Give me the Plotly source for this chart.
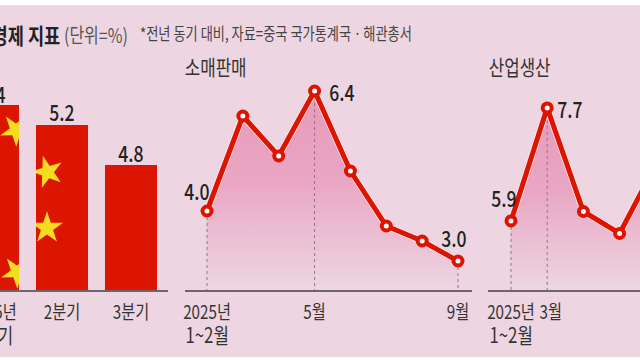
import plotly.graph_objects as go

# ---- data ----
quarter_labels = ["2025년", "2분기", "3분기"]
quarter_sublabel = "1분기"
gdp_values = [5.4, 5.2, 4.8]

retail_values = [4.0, 5.9, 5.1, 6.4, 4.8, 3.7, 3.4, 3.0]
retail_ticks = [0, 3, 7]
retail_ticklabels = ["2025년", "5월", "9월"]

industry_values = [5.9, 7.7, 6.05, 5.7, 6.8]
industry_ticks = [0, 1]
industry_ticklabels = ["2025년", "3월"]

first_period_sublabel = "1~2월"

# ---- style ----
W, H = 640, 360
BG = "#EDD6E2"
RED = "#DC1400"
BAR = "#DB1500"
YEL = "#F5DC1E"
INK = "#222222"
KR = "Noto Sans CJK KR, sans-serif"
TICK = dict(family=KR, size=19, color="#333333")

fig = go.Figure()

# bars
fig.add_trace(go.Bar(x=[0, 1, 2], y=gdp_values, width=0.754, marker=dict(color=BAR, line_width=0),
                     xaxis="x", yaxis="y"))


def star(xa, xs, ys, angles):
    fig.add_trace(go.Scatter(x=xs, y=ys, mode="markers", xaxis=xa, yaxis="y", cliponaxis=True,
                             marker=dict(symbol="star", size=24, color=YEL, angle=angles, line_width=0)))


star("x4", [16, 17], [5.15, 3.73], [-37, -37])
star("x5", [47.5, 47], [4.73, 4.17], [-16, 0])


def line_panel(values, ticks_with_drop, xa, ya, base, top):
    idx = list(range(len(values)))
    fig.add_trace(go.Scatter(x=idx, y=values, mode="none", fill="tozeroy", xaxis=xa, yaxis=ya,
                             fillgradient=dict(type="vertical", start=top, stop=base,
                                               colorscale=[[0, "#E79ABA"], [0.45, "#E9A6C3"], [1, BG]])))
    dx, dy = [], []
    for i in ticks_with_drop:
        dx += [i, i, None]
        dy += [values[i], base, None]
    fig.add_trace(go.Scatter(x=dx, y=dy, mode="lines", xaxis=xa, yaxis=ya,
                             line=dict(color="#8A7A84", width=1, dash="dot")))
    fig.add_trace(go.Scatter(x=idx, y=values, mode="lines", xaxis=xa, yaxis=ya,
                             line=dict(color="#FBEFF4", width=6.5)))
    fig.add_trace(go.Scatter(x=idx, y=values, mode="lines+markers", xaxis=xa, yaxis=ya,
                             line=dict(color=RED, width=5),
                             marker=dict(size=9, color="white", line=dict(color=RED, width=4))))


RETAIL_BASE, IND_BASE = 2.42, 4.80
line_panel(retail_values, retail_ticks, "x2", "y2", RETAIL_BASE, 6.4)
line_panel(industry_values, industry_ticks, "x3", "y3", IND_BASE, 7.7)

hidden = dict(visible=False, fixedrange=True)
base_axis = dict(showgrid=False, zeroline=False, showline=True, linecolor="#6E646A", linewidth=1.5,
                 ticks="", tickfont=TICK, tickangle=0, anchor=None, fixedrange=True, ticklabelstandoff=4)
yfree = dict(visible=False, showgrid=False, zeroline=False, fixedrange=True, domain=[70 / H, 1])

fig.update_layout(
    width=W, height=H, autosize=False, margin=dict(l=0, r=0, t=0, b=0, autoexpand=False), showlegend=False,
    paper_bgcolor="white", plot_bgcolor="rgba(0,0,0,0)",
    xaxis={**base_axis, "anchor": "y", "domain": [0, 168 / W], "range": [7 / 69, 175 / 69],
           "tickmode": "array", "tickvals": [1, 2], "ticktext": quarter_labels[1:]},
    yaxis={**yfree, "range": [3.55, 6.45]},
    xaxis2={**base_axis, "anchor": "y2", "domain": [185 / W, 472 / W], "range": [-0.6135, 7.39],
            "tickmode": "array", "tickvals": retail_ticks, "ticktext": retail_ticklabels},
    yaxis2={**yfree, "range": [RETAIL_BASE, RETAIL_BASE + 5.8]},
    # the "3월" label sits slightly right of its point so that it clears "2025년"
    xaxis3={**base_axis, "anchor": "y3", "domain": [488 / W, 1], "range": [-0.635, 3.563],
            "tickmode": "array", "tickvals": [industry_ticks[0], industry_ticks[1] + 0.1],
            "ticktext": industry_ticklabels},
    yaxis3={**yfree, "range": [IND_BASE, IND_BASE + 290 / 62.8]},
    xaxis4={**hidden, "domain": [0, 19 / W], "range": [0, 19], "anchor": "y"},
    xaxis5={**hidden, "domain": [36 / W, 88 / W], "range": [36, 88], "anchor": "y"},
)

# page background band (the image has thin white strips top and bottom)
fig.add_shape(type="rect", xref="paper", yref="paper", x0=0, x1=1, y0=3 / H, y1=355 / H,
              fillcolor=BG, line_width=0, layer="below")


def paper(text, x, y, size, anchor="center", color=INK, bold=False, weight=None):
    t = f"<b>{text}</b>" if bold else text
    fig.add_annotation(text=t, xref="paper", yref="paper", x=x / W, y=1 - y / H, xanchor=anchor, yanchor="middle",
                       showarrow=False, font=dict(family=KR, size=size, color=color, weight=weight))


paper("중국 경제 지표", 75, 34, 22, anchor="right", bold=True, color="#222222")
paper("(단위=%)", 96, 34, 20, color="#555555")
paper("*전년 동기 대비, 자료=중국 국가통계국ㆍ해관총서", 275.5, 33, 16.5, color="#444444")
paper("소매판매", 215, 66, 21, color="#333333")
paper("산업생산", 519, 66, 21, color="#333333")
# first bar sits mostly off the left edge: its labels are centred there
paper(quarter_labels[0], -7, 310, 19, color="#333333")
paper(quarter_sublabel, -7, 334, 21, color="#333333")
paper(f"{gdp_values[0]}", -7, 93, 22, weight=500)


def sublabel(text, x, xa):
    fig.add_annotation(text=text, x=x, xref=xa, yref="paper", y=1 - 334 / H, yanchor="middle", showarrow=False,
                       font=dict(family=KR, size=21, color="#333333"))


sublabel(first_period_sublabel, retail_ticks[0], "x2")
sublabel(first_period_sublabel, industry_ticks[0], "x3")


def val(text, x, y, xa, ya, dx=0, dy=0):
    fig.add_annotation(text=text, x=x, y=y, xref=xa, yref=ya, xshift=dx, yshift=dy, showarrow=False,
                       font=dict(family=KR, size=22, color=INK, weight=500))


val(f"{gdp_values[1]}", 1, gdp_values[1], "x", "y", dy=14)
val(f"{gdp_values[2]}", 2, gdp_values[2], "x", "y", dy=13)
val(f"{retail_values[0]:.1f}", 0, retail_values[0], "x2", "y2", dx=-10, dy=21)
val(f"{retail_values[3]:.1f}", 3, retail_values[3], "x2", "y2", dx=27, dy=0)
val(f"{retail_values[7]:.1f}", 7, retail_values[7], "x2", "y2", dx=-4, dy=24)
val(f"{industry_values[0]:.1f}", 0, industry_values[0], "x3", "y3", dx=-7, dy=24)
val(f"{industry_values[1]:.1f}", 1, industry_values[1], "x3", "y3", dx=23, dy=0)

# the reference's lettering is horizontally condensed: narrow each real text line
NARROW_JS = """
document.body.style.margin='0';document.body.style.overflow='hidden';
setTimeout(function(){
  document.querySelectorAll('.annotation-text, .xtick text, .x2tick text, .x3tick text').forEach(function(t){
    if(t.hasAttribute('textLength'))return;
    var w=t.getComputedTextLength();
    t.setAttribute('textLength',w*0.8);
    t.setAttribute('lengthAdjust','spacingAndGlyphs');
  });
},30);
"""
fig.write_html("out.html", config=dict(displayModeBar=False), post_script=NARROW_JS)
